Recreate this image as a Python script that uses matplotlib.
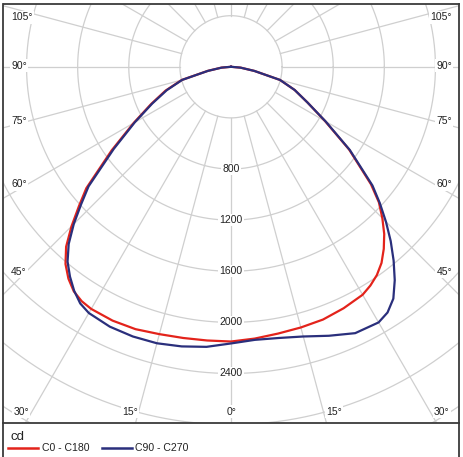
import numpy as np
import matplotlib
matplotlib.use("Agg")
import matplotlib.pyplot as plt
from matplotlib.lines import Line2D

plt.rcParams['font.family'] = ['Liberation Sans', 'DejaVu Sans']

# ---- data (gamma angle in degrees, luminous intensity in cd) ----
gamma = [0, 5, 10, 15, 20, 25, 30, 32.5, 35, 37.5, 40, 42.5, 45, 47.5, 50, 55, 60, 65, 70, 75, 80, 85, 90]
c0 = [2145, 2135, 2120, 2112, 2105, 2085, 2060, 2030, 1990, 1935, 1860, 1775, 1675, 1570, 1430, 1128, 850, 660, 530, 397, 185, 75, 0]
c180 = [2150, 2150, 2155, 2166, 2185, 2192, 2188, 2175, 2145, 2090, 2015, 1910, 1765, 1614, 1478, 1140, 880, 690, 545, 400, 185, 75, 0]
c90 = [2160, 2145, 2155, 2185, 2240, 2300, 2310, 2280, 2215, 2105, 1980, 1850, 1715, 1580, 1445, 1135, 855, 660, 530, 397, 185, 75, 0]
c270 = [2165, 2200, 2222, 2240, 2246, 2244, 2225, 2196, 2140, 2070, 1990, 1880, 1740, 1590, 1455, 1120, 870, 680, 535, 395, 183, 74, 0]

ring_values = [400, 800, 1200, 1600, 2000, 2400, 2800, 3200, 3600]
ring_labels = ["800", "1200", "1600", "2000", "2400"]
angle_labels_side = ["105°", "90°", "75°", "60°", "45°"]
angle_labels_bottom = ["30°", "15°", "0°", "15°", "30°"]
series_names = ["C0 - C180", "C90 - C270"]
red = "#e3231b"
blue = "#2a2f7c"
grid_c = "#cfcfcf"

W, H = 464, 457
fig = plt.figure(figsize=(W / 100, H / 100), dpi=100)

# axes box in pixels
x0p, x1p, y0p, y1p = 3.5, 459.0, 3.5, 423.0
ax = fig.add_axes([x0p / W, 1 - y1p / H, (x1p - x0p) / W, (y1p - y0p) / H])
cx, cy = 231.0, 66.8
s = 7.826  # cd per pixel
ax.set_xlim((x0p - cx) * s, (x1p - cx) * s)
ax.set_ylim((cy - y1p) * s, (cy - y0p) * s)
ax.set_xticks([])
ax.set_yticks([])
for sp in ax.spines.values():
    sp.set_color("#3a3a3a")
    sp.set_linewidth(1.3)

# grid rings
t = np.linspace(0, 2 * np.pi, 721)
for r in ring_values:
    ax.plot(r * np.cos(t), r * np.sin(t), color=grid_c, lw=0.9, zorder=1)
# radial lines every 15 degrees starting at the 400 cd ring
for a in range(0, 360, 15):
    ar = np.radians(a)
    ax.plot([400 * np.sin(ar), 6000 * np.sin(ar)], [-400 * np.cos(ar), -6000 * np.cos(ar)],
            color=grid_c, lw=0.9, zorder=1)

# ring labels
for lab in ring_labels:
    v = float(lab)
    ax.text(0, -v, lab, ha="center", va="center", fontsize=7.5, color="#222222", zorder=3,
            bbox=dict(boxstyle="square,pad=0.12", fc="white", ec="none"))

# angle labels (placed in axes fraction from layout)
side_y = [17.3, 65.7, 121.0, 184.3, 271.7]
for lab, py in zip(angle_labels_side, side_y):
    fy = (y1p - py) / (y1p - y0p)
    ax.text((11 - x0p) / (x1p - x0p), fy, lab, transform=ax.transAxes, ha="left", va="center",
            fontsize=7.5, color="#222222", zorder=3,
            bbox=dict(boxstyle="square,pad=0.12", fc="white", ec="none"))
    ax.text((452 - x0p) / (x1p - x0p), fy, lab, transform=ax.transAxes, ha="right", va="center",
            fontsize=7.5, color="#222222", zorder=3,
            bbox=dict(boxstyle="square,pad=0.12", fc="white", ec="none"))
bottom_x = [21, 130, 232, 334, 441.7]
for lab, px in zip(angle_labels_bottom, bottom_x):
    ax.text((px - x0p) / (x1p - x0p), (y1p - 411.7) / (y1p - y0p), lab, transform=ax.transAxes,
            ha="center", va="center", fontsize=7.5, color="#222222", zorder=3,
            bbox=dict(boxstyle="square,pad=0.12", fc="white", ec="none"))

# curves
g = np.radians(np.array(gamma))
def curve(left, right):
    left = np.array(left, float)
    right = np.array(right, float)
    xl = -left * np.sin(g)
    yl = -left * np.cos(g)
    xr = right * np.sin(g)
    yr = -right * np.cos(g)
    return np.concatenate([xl[::-1], xr[1:]]), np.concatenate([yl[::-1], yr[1:]])

xr_, yr_ = curve(c180, c0)
ax.plot(xr_, yr_, color=red, lw=1.6, zorder=4, solid_joinstyle="round")
xb_, yb_ = curve(c270, c90)
ax.plot(xb_, yb_, color=blue, lw=1.6, zorder=5, solid_joinstyle="round")

# outer frame continuing into legend area
fig.add_artist(Line2D([x0p / W, x0p / W], [0, 1 - y1p / H], color="#3a3a3a", lw=1.3))
fig.add_artist(Line2D([x1p / W, x1p / W], [0, 1 - y1p / H], color="#3a3a3a", lw=1.3))

# legend
fig.text(11 / W, 1 - 436.7 / H, "cd", ha="left", va="center", fontsize=9.5, color="#222222")
ly = 1 - 448.3 / H
fig.add_artist(Line2D([8.3 / W, 38.3 / W], [ly, ly], color=red, lw=1.8))
fig.text(41.7 / W, ly, series_names[0], ha="left", va="center", fontsize=7.6, color="#222222")
fig.add_artist(Line2D([102 / W, 131.7 / W], [ly, ly], color=blue, lw=1.8))
fig.text(135 / W, ly, series_names[1], ha="left", va="center", fontsize=7.6, color="#222222")

fig.savefig("out.png", dpi=100)
